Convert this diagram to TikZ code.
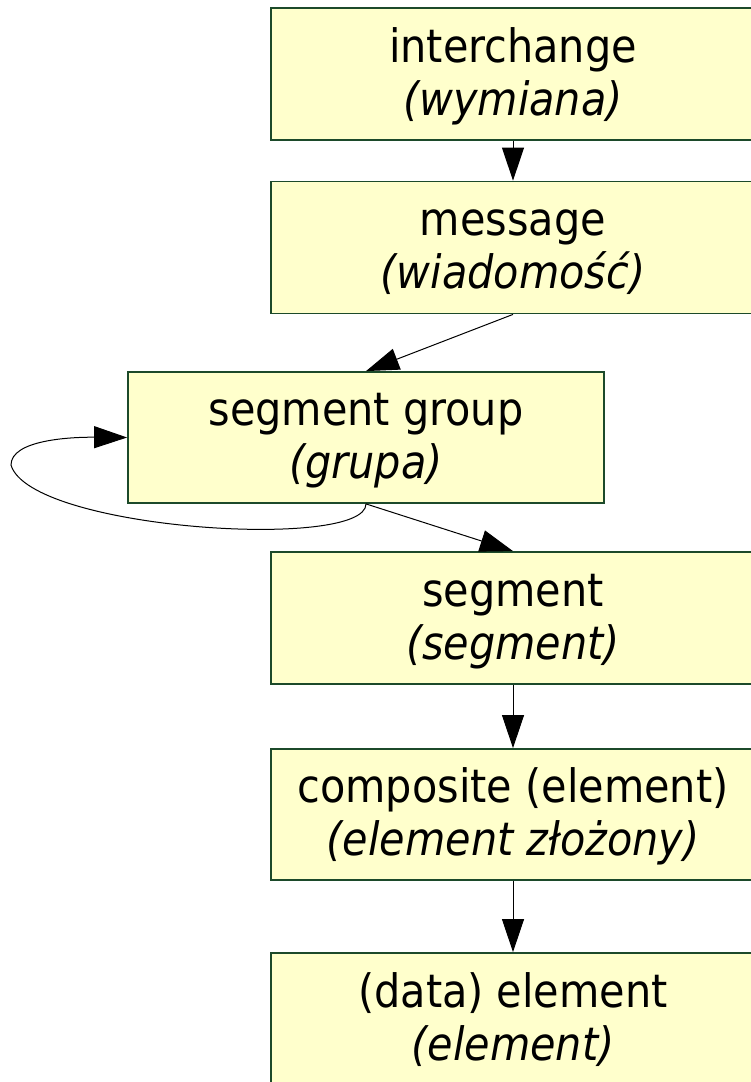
\documentclass[tikz,border=0pt]{standalone}
\usepackage{fontspec}
\setmainfont{DejaVu Sans Condensed}
\usetikzlibrary{arrows.meta}
\definecolor{boxfill}{HTML}{FFFFCC}
\definecolor{boxline}{HTML}{1C4A2A}
% uniform line strut so every label sits at the same height in its box
\newcommand\lstrut{\rule[-12pt]{0pt}{53pt}}
\begin{document}
\begin{tikzpicture}[x=1pt,y=-1pt,
  box/.style={draw=boxline, line width=1.8pt, fill=boxfill,
    minimum width=484pt, minimum height=132pt, inner sep=0pt,
    align=center, font=\fontsize{46}{53}\selectfont},
  link/.style={line width=1pt, -{Triangle[length=33pt,width=22pt]}}]
\clip (0,0) rectangle (751,1082);
\fill[white] (0,0) rectangle (751,1082);

\node[box] (inter) at (513,74)    {\lstrut interchange\\\lstrut\textit{(wymiana)}};
\node[box] (msg)   at (513,247.5) {\lstrut message\\\lstrut\textit{(wiadomość)}};
\node[box, minimum width=476pt, minimum height=131pt] (grp) at (366,437.5)
  {\lstrut segment group\\\lstrut\textit{(grupa)}};
\node[box] (seg)   at (513,618)   {\lstrut segment\\\lstrut\textit{(segment)}};
\node[box, minimum height=131pt] (comp) at (513,814.5)
  {\lstrut composite (element)\\\lstrut\textit{(element złożony)}};
\node[box] (data)  at (513,1019)  {\lstrut (data) element\\\lstrut\textit{(element)}};

\draw[link] (inter) -- (msg);
\draw[link] (msg.south) -- (grp.north);
\draw[link] (grp.south) -- (seg.north);
\draw[link] (seg) -- (comp);
\draw[link] (comp) -- (data);

% self loop on the segment group
\coordinate (loopL) at (11,465);
\draw[link] (grp.south) .. controls +(0,47) and (30,530) .. (loopL)
  .. controls (11,440) and (70,437) .. (grp.west);
\end{tikzpicture}
\end{document}
